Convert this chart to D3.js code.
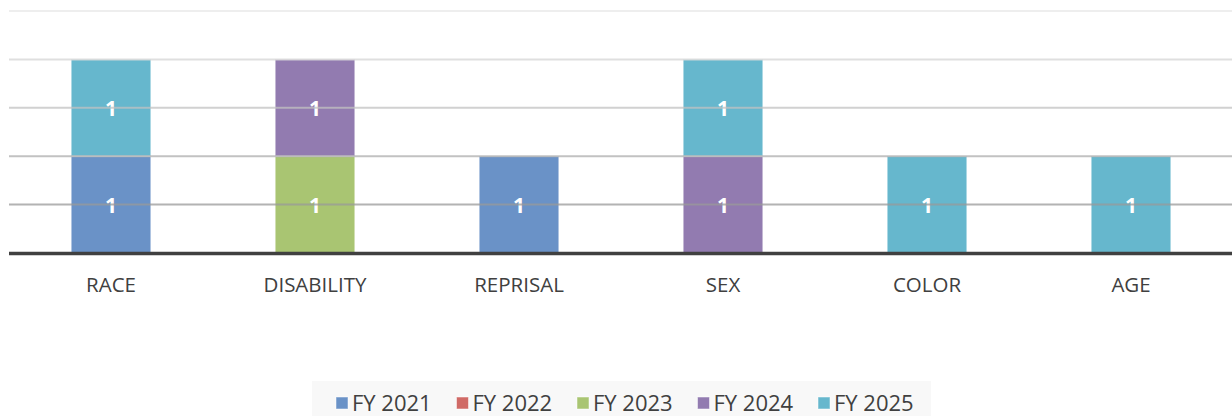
<!DOCTYPE html>
<html>
<head>
<meta charset="utf-8">
<script src="https://cdn.jsdelivr.net/npm/d3@7"></script>
<style>
  body { margin: 0; background: #fff; }
  text { font-family: "Open Sans", sans-serif; }
</style>
</head>
<body>
<svg id="chart" width="1232" height="416"></svg>
<script>
// categories and series
var categories = ["RACE", "DISABILITY", "REPRISAL", "SEX", "COLOR", "AGE"];
var seriesNames = ["FY 2021", "FY 2022", "FY 2023", "FY 2024", "FY 2025"];
var seriesColors = ["#6a92c7", "#d06a66", "#a9c572", "#927bb0", "#66b7cd"];

// one row per series, one value per category
var fy2021 = [1, 0, 1, 0, 0, 0];
var fy2022 = [0, 0, 0, 0, 0, 0];
var fy2023 = [0, 1, 0, 0, 0, 0];
var fy2024 = [0, 1, 0, 1, 0, 0];
var fy2025 = [1, 0, 0, 1, 1, 1];
var yTicks = [0, 0.5, 1, 1.5, 2, 2.5];

var svg = d3.select("#chart");
var allSeries = [fy2021, fy2022, fy2023, fy2024, fy2025];

var rows = categories.map(function (c, i) {
  var r = { cat: c };
  seriesNames.forEach(function (s, j) { r[s] = allSeries[j][i]; });
  return r;
});

var x = d3.scaleBand().domain(categories).range([9, 1233]).paddingInner(0.608).paddingOuter(0.304);
var y = d3.scaleLinear().domain([0, 2.5]).range([253, 11]);

var stack = d3.stack().keys(seriesNames);
var layers = stack(rows);

// bars
var g = svg.append("g");
layers.forEach(function (layer, j) {
  g.selectAll(null)
    .data(layer.filter(function (d) { return d[1] - d[0] > 0; }))
    .enter()
    .append("rect")
    .attr("x", function (d) { return x(d.data.cat); })
    .attr("y", function (d) { return y(d[1]); })
    .attr("width", x.bandwidth())
    .attr("height", function (d) { return y(d[0]) - y(d[1]); })
    .attr("fill", seriesColors[j])
    .attr("stroke", "#ffffff")
    .attr("stroke-opacity", 0.6)
    .attr("stroke-width", 1.5);
});

// gridlines drawn over the bars, getting darker toward the base
var gridColor = d3.scaleLinear().domain([0.5, 2.5]).range(["#999999", "#e8e8e8"]);
svg.append("g")
  .selectAll("line")
  .data(yTicks.filter(function (t) { return t > 0; }))
  .enter()
  .append("line")
  .attr("x1", 9)
  .attr("x2", 1232)
  .attr("y1", function (d) { return y(d); })
  .attr("y2", function (d) { return y(d); })
  .attr("stroke", function (d) { return gridColor(d); })
  .attr("stroke-opacity", 0.75)
  .attr("stroke-width", 2);

// baseline
svg.append("line")
  .attr("x1", 9).attr("x2", 1232)
  .attr("y1", y(0) + 0.5).attr("y2", y(0) + 0.5)
  .attr("stroke", "#404040")
  .attr("stroke-width", 3.5);

// value labels
layers.forEach(function (layer) {
  g.selectAll(null)
    .data(layer.filter(function (d) { return d[1] - d[0] > 0; }))
    .enter()
    .append("text")
    .attr("x", function (d) { return x(d.data.cat) + x.bandwidth() / 2; })
    .attr("y", function (d) { return (y(d[0]) + y(d[1])) / 2 + 8; })
    .attr("text-anchor", "middle")
    .attr("fill", "#ffffff")
    .attr("font-weight", "bold")
    .attr("font-size", 21)
    .text(function (d) { return d[1] - d[0]; });
});

// category axis labels
var xAxis = d3.axisBottom(x).tickSize(0).tickPadding(0);
var ax = svg.append("g").attr("transform", "translate(0,277)").call(xAxis);
ax.select(".domain").remove();
ax.selectAll("text")
  .attr("font-size", 20.5)
  .attr("fill", "#404040")
  .attr("dy", "0.71em")
  .style("font-family", "'Open Sans', sans-serif");

// legend
svg.append("rect")
  .attr("x", 312).attr("y", 381)
  .attr("width", 619).attr("height", 35)
  .attr("fill", "#f8f8f8");

var legend = svg.append("g").selectAll("g")
  .data(seriesNames)
  .enter()
  .append("g")
  .attr("transform", function (d, i) { return "translate(" + (336 + i * 120.5) + ",0)"; });

legend.append("rect")
  .attr("x", 0).attr("y", 397)
  .attr("width", 12).attr("height", 12)
  .attr("fill", function (d, i) { return seriesColors[i]; })
  .attr("stroke", "#ffffff")
  .attr("stroke-opacity", 0.5);

legend.append("text")
  .attr("x", 16).attr("y", 411)
  .attr("font-size", 22)
  .attr("fill", "#404040")
  .text(function (d) { return d; });
</script>
</body>
</html>
